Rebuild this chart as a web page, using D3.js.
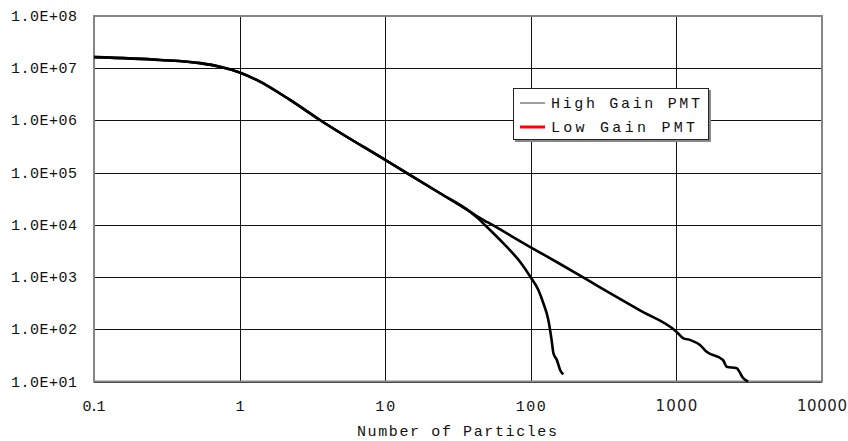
<!DOCTYPE html>
<html>
<head>
<meta charset="utf-8">
<script src="https://cdn.jsdelivr.net/npm/d3@7/dist/d3.min.js"></script>
<style>
  html, body { margin: 0; padding: 0; background: #fff; }
  svg { display: block; }
  .mono { font-family: "Liberation Mono", "DejaVu Sans Mono", monospace; fill: #111; }
  .sans { font-family: "DejaVu Sans", sans-serif; fill: #222; }
</style>
</head>
<body>
<svg id="chart" width="848" height="441"></svg>
<script>
// ---- Data ----
const xTicks = [0.1, 1, 10, 100, 1000, 10000];
const xTickLabels = ["0.1", "1", "10", "100", "1000", "10000"];
const yTicks = [1e1, 1e2, 1e3, 1e4, 1e5, 1e6, 1e7, 1e8];
const yTickLabels = ["1.0E+01", "1.0E+02", "1.0E+03", "1.0E+04", "1.0E+05", "1.0E+06", "1.0E+07", "1.0E+08"];
const seriesNames = ["High Gain PMT", "Low Gain PMT"];

// Long curve (extends to ~3000 particles)
const longX = [0.1, 0.284, 0.535, 0.733, 0.99, 1.31, 2.22, 3.56, 10, 23.8, 38.2, 43.4, 50.8, 99.8, 159, 299, 562, 1000, 1109, 1250, 1452, 1614, 2090, 2215, 2594, 2866, 3103];
const longY = [1.63e7, 1.44e7, 1.25e7, 1.07e7, 8.4e6, 5.97e6, 2.47e6, 1.02e6, 1.75e5, 4.03e4, 1.79e4, 1.42e4, 1.11e4, 3.72e3, 1.78e3, 638, 229, 90, 68, 62, 50, 37, 25.8, 19.2, 17.9, 11.7, 10];

// Short curve (drops off near ~165 particles)
const shortX = [0.1, 0.284, 0.535, 0.733, 0.99, 1.31, 2.22, 3.56, 10, 23.8, 38.2, 43.4, 48.4, 68.2, 84.3, 99.8, 112.7, 122, 132, 139, 143, 151, 159, 167];
const shortY = [1.63e7, 1.44e7, 1.25e7, 1.07e7, 8.4e6, 5.97e6, 2.47e6, 1.02e6, 1.75e5, 4.03e4, 1.79e4, 1.33e4, 9.95e3, 3.82e3, 1.97e3, 991, 566, 315, 151, 62, 34.7, 25.8, 16.6, 13.7];

// ---- Layout ----
const svg = d3.select("#chart");
const pLeft = 94, pRight = 822, pTop = 16, pBottom = 381.5;

const x = d3.scaleLog().domain([0.1, 10000]).range([pLeft, pRight]);
const y = d3.scaleLog().domain([10, 1e8]).range([pBottom, pTop]);

// Gridlines
const g = svg.append("g");
g.selectAll("line.hgrid").data(yTicks).join("line")
  .attr("x1", pLeft).attr("x2", pRight)
  .attr("y1", d => Math.round(y(d)) + 0.5).attr("y2", d => Math.round(y(d)) + 0.5)
  .attr("stroke", "#111").attr("stroke-width", 1);
g.selectAll("line.vgrid").data(xTicks).join("line")
  .attr("y1", pTop).attr("y2", pBottom)
  .attr("x1", d => Math.round(x(d)) + 0.5).attr("x2", d => Math.round(x(d)) + 0.5)
  .attr("stroke", "#111").attr("stroke-width", 1);

// Plot border (gray)
svg.append("rect")
  .attr("x", pLeft).attr("y", pTop)
  .attr("width", pRight - pLeft).attr("height", pBottom - pTop)
  .attr("fill", "none").attr("stroke", "#858585").attr("stroke-width", 2);

// Y tick labels
svg.selectAll("text.ylab").data(yTicks).join("text")
  .attr("class", "mono")
  .attr("x", 11).attr("y", d => y(d) + 5)
  .attr("font-size", 15)
  .attr("textLength", 66).attr("lengthAdjust", "spacing")
  .text((d, i) => yTickLabels[i]);

// X tick labels
const xLabW = [23, 8, 20, 30, 42, 50];
svg.selectAll("text.xlab").data(xTicks).join("text")
  .attr("class", (d, i) => i >= 4 ? "sans" : "mono")
  .attr("x", (d, i) => x(d) - xLabW[i] / 2)
  .attr("y", 410.5)
  .attr("font-size", 15)
  .attr("textLength", (d, i) => xLabW[i]).attr("lengthAdjust", "spacing")
  .text((d, i) => xTickLabels[i]);

// Axis title
svg.append("text").attr("class", "mono")
  .attr("x", 357).attr("y", 436)
  .attr("font-size", 15)
  .attr("textLength", 200).attr("lengthAdjust", "spacing")
  .text("Number of Particles");

// Curves
const line = d3.line().x(d => x(d[0])).y(d => y(d[1])).curve(d3.curveMonotoneX);
const longData = longX.map((v, i) => [v, longY[i]]);
const shortData = shortX.map((v, i) => [v, shortY[i]]);
svg.append("path").datum(longData).attr("d", line)
  .attr("fill", "none").attr("stroke", "#000").attr("stroke-width", 2.6).attr("stroke-linejoin", "round");
svg.append("path").datum(shortData).attr("d", line)
  .attr("fill", "none").attr("stroke", "#000").attr("stroke-width", 2.6).attr("stroke-linejoin", "round");

// Legend
const lg = svg.append("g");
lg.append("rect").attr("x", 515).attr("y", 90).attr("width", 196).attr("height", 52).attr("fill", "#888");
lg.append("rect").attr("x", 513.5).attr("y", 88.5).attr("width", 195).attr("height", 51)
  .attr("fill", "#fff").attr("stroke", "#222").attr("stroke-width", 1);
const legColors = ["#808080", "#ff0000"];
const legWidths = [1.5, 3];
const legY = [103, 127];
seriesNames.forEach((name, i) => {
  lg.append("line").attr("x1", 520).attr("x2", 545).attr("y1", legY[i]).attr("y2", legY[i])
    .attr("stroke", legColors[i]).attr("stroke-width", legWidths[i]);
  lg.append("text").attr("class", "mono")
    .attr("x", 551).attr("y", legY[i] + 5)
    .attr("font-size", 15)
    .attr("textLength", i === 0 ? 149 : 144).attr("lengthAdjust", "spacing")
    .text(name);
});
</script>
</body>
</html>
